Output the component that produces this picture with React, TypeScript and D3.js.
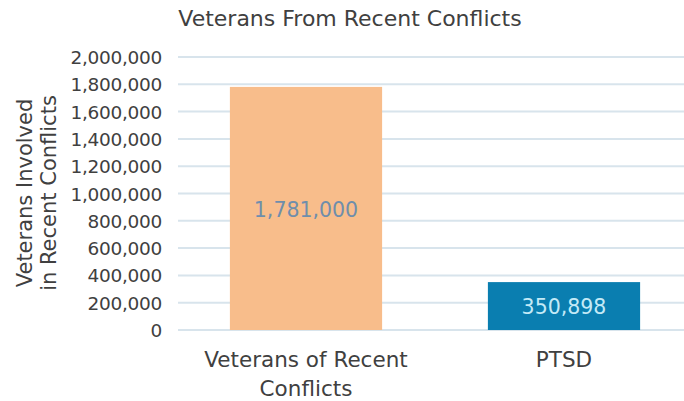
import React from "react";
import * as d3 from "d3";

const categories: string[][] = [["Veterans of Recent", "Conflicts"], ["PTSD"]];
const values: number[] = [1781000, 350898];
const barColors: string[] = ["#F8BD8B", "#0A7EB0"];
const labelColors: string[] = ["#6F8EAB", "#C4EAF7"];
const yTicks: number[] = [0, 200000, 400000, 600000, 800000, 1000000, 1200000, 1400000, 1600000, 1800000, 2000000];

const W = 684;
const H = 401;
const FONT = "'DejaVu Sans', Verdana, sans-serif";
const TEXT = "#404040";

export default function App() {
  const x = d3.scaleBand<number>().domain([0, 1]).range([177, 693]).paddingInner(0.41).paddingOuter(0.205);
  const y = d3.scaleLinear().domain([0, 2000000]).range([330, 57]);
  const fmt = d3.format(",");
  return (
    <svg width={W} height={H} style={{ position: "absolute", left: 0, top: 0, background: "#fff" }} fontFamily={FONT}>
      <rect x={0} y={0} width={W} height={H} fill="#fff" />
      <text x={350} y={26} textAnchor="middle" fontSize={22} fill={TEXT}>Veterans From Recent Conflicts</text>
      {yTicks.map((t) => (
        <g key={t}>
          <line x1={178} x2={W} y1={y(t)} y2={y(t)} stroke="#D8E4EC" strokeWidth={2} />
          <text x={162} y={y(t) + 7} textAnchor="end" fontSize={18.5} fill={TEXT} letterSpacing={-0.3}>{fmt(t)}</text>
        </g>
      ))}
      {values.map((v, i) => (
        <g key={i}>
          <rect x={x(i)} y={y(v)} width={x.bandwidth()} height={y(0) - y(v)} fill={barColors[i]} />
          <text x={(x(i) as number) + x.bandwidth() / 2} y={i === 0 ? 217 : (y(v) + y(0)) / 2 + 7.5} textAnchor="middle" fontSize={20.5} fill={labelColors[i]}>{fmt(v)}</text>
          {categories[i].map((line, j) => (
            <text key={j} x={(x(i) as number) + x.bandwidth() / 2} y={367 + j * 29} textAnchor="middle" fontSize={21.5} fill={TEXT}>{line}</text>
          ))}
        </g>
      ))}
      <text transform="translate(32,193) rotate(-90)" textAnchor="middle" fontSize={21} fill={TEXT}>Veterans Involved</text>
      <text transform="translate(56,193) rotate(-90)" textAnchor="middle" fontSize={21} fill={TEXT}>in Recent Conflicts</text>
    </svg>
  );
}
